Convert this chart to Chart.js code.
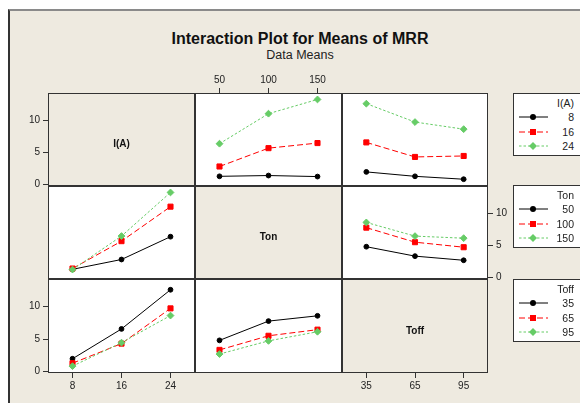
<!DOCTYPE html>
<html>
<head>
<meta charset="utf-8">
<script src="https://cdn.jsdelivr.net/npm/chart.js@4.4.1/dist/chart.umd.min.js"></script>
<style>
  html, body { margin: 0; padding: 0; background: #fff; overflow: hidden; }
  body { width: 580px; height: 403px; position: relative; font-family: "Liberation Sans", Arial, sans-serif; }
  #frame { position: absolute; left: 8px; top: 9px; width: 620px; height: 440px;
           background: #eeeae0; border-left: 2px solid #333; border-top: 2px solid #8a8a8a; }
  #title { position: absolute; left: 100px; width: 400px; top: 30px; text-align: center;
           font-weight: bold; font-size: 16px; color: #111; }
  #sub { position: absolute; left: 100px; width: 400px; top: 48px; text-align: center;
         font-size: 12.5px; color: #222; }
  canvas { position: absolute; }
  .legend { position: absolute; left: 513px; width: 90px; background: #fff; border: 1px solid #333; }
  .legend div { position: absolute; right: 30px; font-size: 10.5px; color: #222; line-height: 12px; }
</style>
</head>
<body>
<div id="frame"></div>
<div id="title">Interaction Plot for Means of MRR</div>
<div id="sub">Data Means</div>
<script>
// factors and their levels
const factorNames = ["I(A)", "Ton", "Toff"];
const levelsI = [8, 16, 24];
const levelsTon = [50, 100, 150];
const levelsToff = [35, 65, 95];
const yTicks = [0, 5, 10];

// cell means of MRR, rows = first factor level, columns = second factor level
const meansITon = [[1.30, 1.42, 1.26], [2.82, 5.66, 6.45], [6.35, 11.0, 13.2]];
const meansIToff = [[1.98, 1.30, 0.85], [6.55, 4.30, 4.45], [12.55, 9.70, 8.60]];
const meansTonToff = [[4.80, 3.34, 2.70], [7.75, 5.50, 4.72], [8.56, 6.44, 6.12]];

const levels = [levelsI, levelsTon, levelsToff];
const tables = { "0-1": meansITon, "0-2": meansIToff, "1-2": meansTonToff };

// line styles for level 1, 2, 3 of the trace factor
const styles = [
  { color: "#000000", dash: [], point: "circle", radius: 2.4 },
  { color: "#ff0000", dash: [6, 3], point: "rect", radius: 3.6 },
  { color: "#66cc66", dash: [2.5, 2], point: "rectRot", radius: 3.4 }
];

const colX = [48, 195, 342, 488];
const rowY = [93, 186, 279, 373];
const M = 32;
const tickFont = { family: "Liberation Sans", size: 10 };

const panelPlugin = {
  id: "panel",
  beforeDraw(chart, args, opts) {
    const a = chart.chartArea, ctx = chart.ctx;
    ctx.save();
    ctx.fillStyle = opts.fill;
    ctx.fillRect(a.left, a.top, a.width, a.height);
    ctx.restore();
  },
  afterDraw(chart, args, opts) {
    const a = chart.chartArea, ctx = chart.ctx;
    ctx.save();
    ctx.strokeStyle = "#333";
    ctx.lineWidth = 1;
    ctx.strokeRect(a.left + 0.5, a.top + 0.5, a.width - 1, a.height - 1);
    if (opts.label) {
      ctx.fillStyle = "#111";
      ctx.font = "bold 10px 'Liberation Sans'";
      ctx.textAlign = "center";
      ctx.textBaseline = "middle";
      ctx.fillText(opts.label, (a.left + a.right) / 2, (a.top + a.bottom) / 2 + 5);
    }
    ctx.restore();
  }
};

function seriesFor(r, c) {
  if (r === c) return [];
  const lo = Math.min(r, c), hi = Math.max(r, c);
  const t = tables[lo + "-" + hi];
  return [0, 1, 2].map(k => r < c ? t[k] : t.map(row => row[k]));
}

function makePanel(r, c) {
  const x = colX[c], y = rowY[r];
  const w = colX[c + 1] - x, h = rowY[r + 1] - y;
  const lv = levels[c];
  const step = lv[1] - lv[0];

  const showTop = r === 0 && c === 1;
  const showBottom = r === 2 && c !== 1;
  const showLeft = c === 0 && r !== 1;
  const showRight = c === 2 && r === 1;
  const showX = showTop || showBottom;
  const showY = showLeft || showRight;

  const cv = document.createElement("canvas");
  cv.width = w + 2 * M;
  cv.height = h + 2 * M;
  cv.style.left = (x - M) + "px";
  cv.style.top = (y - M) + "px";
  document.body.appendChild(cv);

  const datasets = seriesFor(r, c).map((vals, k) => ({
    data: lv.map((v, j) => ({ x: v, y: vals[j] })),
    borderColor: styles[k].color,
    backgroundColor: styles[k].color,
    borderWidth: 1,
    borderDash: styles[k].dash,
    pointStyle: styles[k].point,
    pointRadius: styles[k].radius,
    pointBorderWidth: 1,
    tension: 0,
    fill: false,
    order: 3 - k
  }));

  const gridOpts = { drawOnChartArea: false, drawTicks: true, tickLength: 5, color: "#333" };

  new Chart(cv, {
    type: "line",
    data: { datasets },
    plugins: [panelPlugin],
    options: {
      responsive: false,
      animation: false,
      layout: { padding: {
        top: showTop ? 0 : M, bottom: showBottom ? 0 : M,
        left: showLeft ? 0 : M, right: showRight ? 0 : M } },
      plugins: {
        legend: { display: false },
        tooltip: { enabled: false },
        panel: { fill: r === c ? "#eeeae0" : "#ffffff", label: r === c ? factorNames[r] : "" }
      },
      scales: {
        x: {
          type: "linear",
          position: showTop ? "top" : "bottom",
          display: showX,
          min: lv[0] - step / 2,
          max: lv[2] + step / 2,
          afterBuildTicks: s => { s.ticks = lv.map(v => ({ value: v })); },
          afterFit: s => { s.height = showX ? M : 0; },
          grid: gridOpts,
          border: { display: false },
          ticks: { font: tickFont, color: "#222", padding: 2, maxRotation: 0, autoSkip: false }
        },
        y: {
          type: "linear",
          position: showRight ? "right" : "left",
          display: showY,
          min: -0.2,
          max: 14.2,
          afterBuildTicks: s => { s.ticks = yTicks.map(v => ({ value: v })); },
          afterFit: s => { s.width = showY ? M : 0; },
          grid: gridOpts,
          border: { display: false },
          ticks: { font: tickFont, color: "#222", padding: 3, autoSkip: false }
        }
      }
    }
  });
}

for (let r = 0; r < 3; r++) {
  for (let c = 0; c < 3; c++) makePanel(r, c);
}

// legends, one per trace factor
const legendTops = [93, 185, 279];
function symbol(s, top) {
  const cy = 5;
  let mark = "";
  if (s.point === "circle") mark = `<circle cx="14" cy="${cy}" r="3" fill="${s.color}"/>`;
  if (s.point === "rect") mark = `<rect x="11" y="${cy - 3}" width="6" height="6" fill="${s.color}"/>`;
  if (s.point === "rectRot") mark = `<polygon points="14,${cy - 4} 18,${cy} 14,${cy + 4} 10,${cy}" fill="${s.color}"/>`;
  return `<svg style="position:absolute;left:5px;top:${top}px" width="30" height="10">` +
    `<line x1="0" y1="${cy}" x2="29" y2="${cy}" stroke="${s.color}" stroke-width="1" ` +
    `stroke-dasharray="${s.dash.join(" ")}"/>${mark}</svg>`;
}
factorNames.forEach((name, f) => {
  const box = document.createElement("div");
  box.className = "legend";
  box.style.top = legendTops[f] + "px";
  box.style.height = "61px";
  let html = `<div style="top:3px">${name}</div>`;
  levels[f].forEach((v, k) => {
    const ty = 17 + k * 14.5;
    html += symbol(styles[k], ty + 1);
    html += `<div style="top:${ty}px">${v}</div>`;
  });
  box.innerHTML = html;
  document.body.appendChild(box);
});
</script>
</body>
</html>
